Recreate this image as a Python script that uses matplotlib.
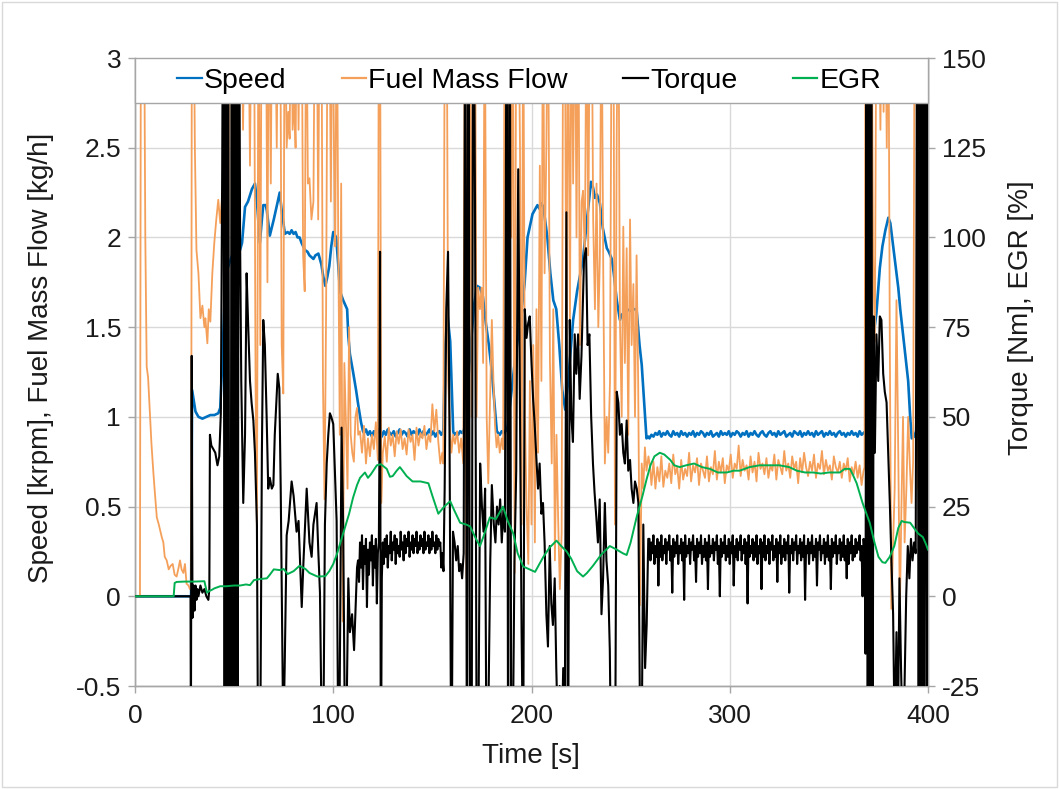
import numpy as np
import matplotlib
matplotlib.use("Agg")
import matplotlib.pyplot as plt
from matplotlib.patches import Rectangle
from matplotlib.lines import Line2D

plt.rcParams['font.family'] = ['Liberation Sans', 'DejaVu Sans']
plt.rcParams['axes.unicode_minus'] = False

# ---------------- data ----------------
x_ticks = [0, 100, 200, 300, 400]
left_ticks = [-0.5, 0, 0.5, 1, 1.5, 2, 2.5, 3]
right_ticks = [-25, 0, 25, 50, 75, 100, 125, 150]
series_names = ["Speed", "Fuel Mass Flow", "Torque", "EGR"]

# Speed [krpm] : (time s, value)
speed_pts_a = [(0, 0), (28.3, 0), (28.8, 1.15), (29.5, 1.10), (30.5, 1.03), (32, 1.0), (34, 0.99), (36, 1.0),
               (38, 1.01), (40, 1.01), (42, 1.02), (43, 1.05), (44, 1.3), (45, 1.6), (46.5, 1.82), (48, 1.87),
               (49, 1.9), (51, 1.93), (53, 1.93), (54, 1.97), (55, 2.1), (55.5, 2.17), (57, 2.2), (59, 2.27),
               (60.5, 2.3), (61.5, 2.2), (63, 1.97), (64, 2.1), (64.7, 2.18), (66, 2.18), (66.5, 2.15),
               (68, 2.01), (70, 2.1), (72, 2.2), (73, 2.25), (74, 2.15), (75.6, 2.02), (77, 2.03), (78, 2.02),
               (79, 2.04), (80, 2.02), (81, 2.03), (82, 2.0), (83, 2.0), (84, 1.97), (85.7, 1.93), (87, 1.92),
               (88, 1.9), (90, 1.88), (91, 1.9), (92.5, 1.91), (94, 1.85), (95, 1.78), (96, 1.73), (97, 1.78),
               (98, 1.84), (99, 1.95), (100, 2.03), (101.5, 2.0), (102.5, 1.85), (103.4, 1.7), (105, 1.65),
               (107, 1.6), (107.6, 1.45), (108.4, 1.35), (110, 1.25), (111.5, 1.15), (112.7, 1.06),
               (114, 0.97), (115, 0.92)]
speed_band_1 = [0.91, 0.93, 0.90, 0.92, 0.89, 0.92, 0.90, 0.93, 0.91, 0.89,
                0.92, 0.90, 0.93, 0.91, 0.90, 0.92, 0.89, 0.91, 0.93, 0.90,
                0.92, 0.91, 0.89, 0.93, 0.90, 0.92, 0.91, 0.90, 0.93, 0.89,
                0.92, 0.90, 0.91, 0.93, 0.90, 0.92, 0.89, 0.91, 0.92, 0.90]   # from 115.5 s, 1 s step
speed_pts_b = [(155.5, 0.92), (156.5, 1.4), (157.5, 1.58), (159, 1.42), (160.5, 0.92), (161, 0.90), (162, 0.91),
               (163, 0.90), (164, 0.92), (165, 0.91), (166, 0.93), (167, 1.0), (169, 1.35), (171, 1.62),
               (172.5, 1.73), (174, 1.72), (175.5, 1.67), (177, 1.52), (178.5, 1.4), (180, 1.25), (181.5, 1.05),
               (182.5, 0.92), (184, 0.90), (185, 0.92), (186, 0.91), (187, 0.92), (188, 0.95), (190, 1.15),
               (192, 1.35), (194, 1.5), (196.5, 1.74), (198, 2.0), (200.5, 2.13), (202, 2.16), (203, 2.18),
               (204, 2.16), (205, 2.19), (206, 2.17), (208, 2.0), (209.5, 1.8), (211, 1.65), (212.5, 1.6),
               (214, 1.4), (215.5, 1.15), (217, 1.04), (218.5, 1.2), (220, 1.4), (221, 1.54), (223, 1.7),
               (226, 1.88), (228, 2.1), (230, 2.31), (231, 2.28), (232, 2.22), (233, 2.24), (234.5, 2.19),
               (236, 2.05), (238, 1.94), (239, 1.92), (240.5, 1.88), (241.5, 1.8), (243, 1.65), (244.6, 1.54),
               (245.5, 1.57), (247, 1.58), (248, 1.6), (250, 1.59), (252, 1.6), (253, 1.6), (254.5, 1.4),
               (255.6, 1.29), (257, 1.05), (258, 0.88), (259, 0.89)]
speed_band_2 = [0.88, 0.90, 0.89, 0.91, 0.90, 0.92, 0.89, 0.91, 0.90, 0.92,
                0.90, 0.89, 0.92, 0.90, 0.91, 0.89, 0.92, 0.90, 0.91, 0.89,
                0.91, 0.90, 0.92, 0.89, 0.91, 0.90, 0.92, 0.91, 0.89, 0.91,
                0.90, 0.92, 0.89, 0.90, 0.91, 0.89, 0.92, 0.90, 0.91, 0.90,
                0.92, 0.89, 0.91, 0.90, 0.92, 0.91, 0.89, 0.91, 0.90, 0.92,
                0.89, 0.91, 0.90, 0.92, 0.90, 0.89, 0.91, 0.92, 0.90, 0.89,
                0.91, 0.92, 0.90, 0.91, 0.89, 0.92, 0.90, 0.91, 0.92, 0.89,
                0.90, 0.91, 0.89, 0.92, 0.91, 0.90, 0.92, 0.89, 0.91, 0.90,
                0.92, 0.90, 0.91, 0.89, 0.92, 0.90, 0.91, 0.92, 0.89, 0.91,
                0.90, 0.92, 0.90, 0.91, 0.89, 0.91, 0.92, 0.90, 0.91, 0.89,
                0.91, 0.90, 0.92, 0.90, 0.91, 0.89, 0.92, 0.90, 0.91]   # from 259.5 s, 1 s step
speed_pts_c = [(368.5, 0.92), (369.5, 0.95), (371, 1.2), (372.5, 1.45), (374, 1.58), (375.7, 1.83), (377, 1.95),
               (378.5, 2.04), (380, 2.11), (381, 2.08), (382, 1.99), (383.5, 1.85), (385, 1.72), (386, 1.6),
               (387.3, 1.47), (388.5, 1.35), (390, 1.2), (391, 1.0), (391.8, 0.88), (393, 0.89), (394, 0.92),
               (395, 1.3), (396, 1.7), (397, 2.1), (398, 2.3), (399, 2.4), (400, 2.45)]

# Fuel mass flow [kg/h]  (values above the top are clipped behind the legend box)
fuel_pts_a = [(0, 0), (2.5, 0), (3, 3.5), (4.5, 3.5), (5.2, 2.0), (5.9, 1.28), (6.6, 1.22), (7.4, 1.05),
              (8.3, 0.85), (9.2, 0.7), (10, 0.58), (11, 0.44), (12, 0.4), (13.5, 0.33), (14.3, 0.3), (15, 0.22),
              (16, 0.2), (17, 0.15), (18, 0.17), (19, 0.18), (20, 0.12), (21, 0.11), (22, 0.16), (22.7, 0.2),
              (23.5, 0.15), (24.4, 0.13), (25.2, 0.18), (26, 0.07), (27, 0.06), (27.7, 0.04), (28.3, 0.05),
              (28.7, 3.5), (29.5, 3.5), (30.2, 2.5), (31, 1.93), (32, 1.8), (33, 1.55), (34, 1.62), (35, 1.5),
              (35.5, 1.55), (36.5, 1.41), (37.2, 1.6), (38, 1.53), (39, 1.8), (40, 1.97), (41, 2.1), (42, 2.21),
              (43, 2.08), (44, 2.25), (45, 2.23), (46, 3.5), (46.8, 1.2), (47.5, 3.5), (48.5, 3.5), (49.2, 0.6),
              (50, 3.5), (51, 3.5), (51.8, 1.5), (52.5, 3.5), (53.5, 3.5), (54.5, 2.6), (55.5, 3.5), (57, 3.5),
              (58, 2.4), (58.8, 3.5), (60, 3.5), (60.8, 1.2), (61.5, 0.35), (62.3, 3.5), (63.2, 1.4),
              (63.9, 3.5), (65, 3.5), (66, 3.5), (66.8, 1.75), (67.5, 3.5), (68.5, 2.3), (69.2, 3.5),
              (70.5, 3.5), (71.5, 2.5), (72.3, 3.5), (73.2, 3.5), (74, 1.4), (74.8, 1.13), (75.5, 3.5),
              (76.5, 2.5), (77.3, 2.7), (78, 2.55), (78.8, 3.5), (79.5, 2.6), (80.3, 2.75), (81, 2.5),
              (81.8, 3.5), (82.5, 2.6), (83.3, 3.5), (84, 3.5), (84.8, 1.9), (85.6, 1.7), (86.4, 3.5),
              (87.2, 2.3), (88, 2.33), (89, 2.1), (90, 2.2), (90.8, 3.5), (91.6, 3.5), (92.4, 2.1), (93.2, 3.5),
              (94, 3.5), (94.8, 1.2), (95.6, 0.54), (96.4, 1.6), (97.2, 3.5), (98, 3.5), (98.8, 2.2),
              (99.6, 3.5), (100.4, 2.45), (101, 1.95), (101.8, 3.5), (102.5, 2.0), (103.3, 0.9), (104, 2.3),
              (104.8, -0.14), (105.6, 1.3), (106.4, 0.97), (107.2, 0.6), (108, 1.5), (108.8, 0.9), (109.6, 0.8),
              (110.4, 0.75), (111.2, 1.0), (112, 1.05), (112.6, 0.9)]
fuel_band_1a = [0.92, 0.80, 0.95, 0.74, 0.88, 0.78, 0.90, 0.82, 0.97, 0.76]   # from 113.5 s, 1 s step
fuel_pts_spike = [(123.0, 3.5), (123.6, 3.5), (124.2, 0.52)]
fuel_band_1b = [0.80, 0.89, 0.75, 0.94, 0.84, 0.90, 0.78, 0.92, 0.85, 0.93,
                0.82, 0.88, 0.79, 0.93, 0.86, 0.90, 0.76, 0.94, 0.84, 0.91,
                0.88, 0.95, 0.82, 0.90, 0.86, 1.07, 0.92, 1.04, 0.86, 0.74]   # from 125 s, 1 s step
fuel_pts_b = [(155, 0.8), (155.5, 0.74), (156.3, 3.5), (157.2, 3.5), (158, 1.2), (158.8, 0.95), (159.6, 0.8),
              (160.5, 0.9), (161.4, 0.85), (162.5, 0.92), (163.5, 0.8), (164.5, 0.88), (165.6, 0.74),
              (166.4, 3.5), (167.2, 0.1), (168, 3.5), (169, 3.5), (169.8, 1.0), (170.6, 3.5), (171.5, 3.5),
              (172.3, 1.0), (173.1, 1.72), (174, 1.6), (174.8, 1.72), (175.6, 1.3), (176.4, 3.5), (177.4, 1.0),
              (178.2, 0.63), (179.1, 1.1), (180, 1.54), (180.8, 1.2), (181.6, 0.95), (182.4, 0.83), (183.2, 0.9),
              (184, 0.8), (185, 0.88), (185.7, 0.82), (186.5, 3.5), (187.4, 3.5), (188.2, 1.6), (189, 3.5),
              (189.8, 2.0), (190.6, 3.5), (191.5, 0.13), (192.3, 3.5), (193.3, 3.5), (194.2, 2.5), (195, 0.4),
              (195.8, 3.5), (196.7, 1.0), (197.5, 0.5), (198.4, 0.18), (199.2, 1.2), (200, 0.4), (200.9, 1.4),
              (201.7, 0.3), (202.5, 1.6), (203.3, 0.8), (204.2, 2.4), (205, 1.2), (205.8, 3.5), (206.6, 1.8),
              (207.5, 2.5), (208.3, 3.5), (209.3, 1.31), (210.2, 0.74), (211, 1.6), (211.8, 0.2), (212.6, 0.9),
              (213.5, 0.4), (214.3, 0.04), (215.2, 0.35), (216, 3.5), (216.8, 3.5), (217.6, 1.2), (218.4, 3.5),
              (219.4, 1.54), (220.2, 3.5), (221, 2.3), (221.9, 3.5), (222.7, 2.0), (223.6, 3.5), (224.4, 1.4),
              (225.3, 2.2), (226, 2.26), (226.9, 1.88), (227.8, 3.5), (228.6, 1.9), (229.5, 3.5), (230.3, 3.5),
              (231.1, 2.1), (232, 1.6), (232.8, 2.3), (233.7, 1.5), (234.5, 1.9), (235.3, 3.5), (236.2, 1.8),
              (237, 0.74), (237.9, 1.0), (238.7, 0.8), (239.6, 1.2), (240.5, 3.5), (241.3, 3.5), (242.1, 0.4),
              (243, 2.6), (243.8, 3.5), (244.6, 1.54), (245.5, 1.0), (246.3, 2.06), (247.1, 1.3), (248, 1.94),
              (248.8, 0.9), (249.7, 2.1), (250.5, 1.4), (251.4, 1.74), (252.2, 1.0), (253, 1.9), (253.8, 1.2),
              (254.7, -0.05), (255.6, 0.74), (256.4, 0.6), (257.2, 0.83), (258, 0.7), (259, 0.78), (259.8, 0.72)]
fuel_band_2 = [0.62, 0.75, 0.60, 0.72, 0.64, 0.78, 0.61, 0.70, 0.66, 0.74,
               0.63, 0.79, 0.68, 0.72, 0.60, 0.76, 0.65, 0.71, 0.67, 0.80,
               0.64, 0.73, 0.69, 0.77, 0.62, 0.74, 0.70, 0.66, 0.78, 0.64,
               0.72, 0.68, 0.81, 0.65, 0.75, 0.69, 0.77, 0.63, 0.73, 0.70,
               0.79, 0.66, 0.74, 0.71, 0.84, 0.67, 0.76, 0.70, 0.73, 0.65,
               0.78, 0.69, 0.75, 0.64, 0.80, 0.71, 0.74, 0.68, 0.77, 0.66,
               0.73, 0.70, 0.79, 0.65, 0.76, 0.72, 0.68, 0.81, 0.70, 0.74,
               0.66, 0.78, 0.71, 0.75, 0.63, 0.77, 0.69, 0.80, 0.72, 0.67,
               0.75, 0.70, 0.79, 0.66, 0.74, 0.71, 0.81, 0.68, 0.76, 0.70,
               0.73, 0.65, 0.78, 0.72, 0.69, 0.75, 0.66, 0.74, 0.70, 0.77,
               0.64, 0.72, 0.68, 0.75, 0.66, 0.73, 0.62, 0.70]   # from 260.5 s, 1 s step
fuel_pts_c = [(368, 0.72), (368.5, 3.5), (369.3, 3.5), (370, 1.0), (370.7, 3.5), (371.5, 3.5), (372.3, 1.9),
              (373.2, 1.42), (374, 3.5), (375, 3.5), (376, 2.6), (376.8, 3.5), (377.6, 2.7), (378.4, 3.5),
              (379.2, 2.5), (380, 3.5), (380.7, 1.5), (381.5, -0.07), (382.4, 0.3), (383.2, 0.6), (384.1, 1.65),
              (385, 0.8), (385.8, -0.08), (386.6, 0.5), (387.4, 1.0), (388.2, 0.3), (389.1, 0.6), (390, 1.0),
              (390.8, 0.74), (391.7, 0.52), (392.5, 0.75), (393.3, 3.5), (394.1, 3.5), (395, 0.6), (395.8, 3.5),
              (396.6, 3.5), (397.5, 1.0), (398.3, 3.5), (399.2, 3.5), (400, 2.0)]

# Torque [Nm]  (values beyond the axis range are clipped)
torque_pts_a = [(0, 0), (28.0, 0), (28.2, -40), (28.6, 67), (29.0, -6), (29.5, 3), (30.0, -4), (30.5, 3),
                (31.0, -1), (31.5, 2), (32.0, 0), (33.0, 3), (34.0, 1), (35.0, 2), (36.0, 0), (37.0, -1),
                (37.5, 2), (37.8, 45), (38.5, 42), (39.5, 41), (40.5, 40), (41.6, 36.5), (42.5, 39), (43.3, 51),
                (44.0, 120), (44.6, 200), (45.2, -60), (45.8, 200), (46.4, -60), (47.0, 200), (47.6, -60),
                (48.2, -60), (48.8, 200), (49.4, -60), (50.0, 200), (50.6, -60), (51.2, 200), (51.8, -60),
                (52.4, 200), (53.0, 100), (53.6, 60), (54.6, 26), (55.5, 45), (56.3, 90), (57.0, 77), (58.0, 60),
                (58.8, 54), (59.7, 49), (60.5, 40), (61.5, 20), (62.2, -60), (63.0, -60), (64.0, 40), (64.7, 77),
                (65.5, 70), (66.4, 50), (67.2, 30), (68.0, 33), (69.0, 30), (69.8, 31), (70.5, 45), (72.0, 62),
                (72.8, 58), (73.5, 30), (74.8, -40), (75.5, -20), (76.5, 17), (77.5, 21), (79.0, 32), (80.0, 28),
                (81.5, 18), (82.5, 21), (84.1, -3), (85.0, 10), (86.6, 30), (88.0, 15), (89.1, 11), (90.0, 20),
                (91.6, 26), (92.5, 12), (93.3, 1), (94.2, -40), (95.0, -40), (95.8, 20), (96.7, 37), (97.5, 45),
                (98.3, 51), (99.0, 50), (100.0, 48), (100.8, 35), (101.7, 21), (102.5, -40), (103.2, -30),
                (104.2, 47), (105.0, 20), (105.9, -40), (106.8, -30), (107.6, 5), (108.4, -10), (109.5, -5),
                (110.5, -15), (111.3, -3), (112.0, 8)]
torque_band_1a = [10, 4, 15, 8, 17, 2, 14, 9, 16, -3, 13, 6, 15, 10, 17, 3, 14, 8, 16, -2, 12, 15]  # from 112.5 s, 0.5 s
torque_pts_spike = [(123.3, 40), (123.6, 96), (124.0, -60)]
torque_band_1b = [5, 15, 9, 16, 11, 17, 8, 14, 12, 18,
                  10, 15, 13, 17, 9, 16, 12, 14, 11, 18,
                  13, 15, 10, 17, 12, 16, 14, 18, 11, 15,
                  13, 17, 12, 16, 14, 18, 12, 15, 13, 17,
                  14, 16, 12, 18, 13, 15, 14, 17, 12, 16,
                  13, 18, 14, 15, 12, 17, 13, 16, 14, 15,
                  8, 12]   # from 124.5 s, 0.5 s step
torque_pts_b = [(155.6, 7), (156.2, 30), (157, 80), (157.9, 96), (158.6, 50), (159.6, -60), (160.4, 18),
                (161.2, 15), (162, 10), (162.8, 14), (163.5, 7), (164.3, 9), (165, 5), (165.8, 12), (166.6, 200),
                (167.4, -60), (168.2, 200), (169, -60), (169.8, -60), (170.6, 200), (171.5, 110), (172.4, -60),
                (173.2, -40), (174.1, 37), (175, 25), (175.8, 18), (176.6, 30), (177.4, -60), (178.3, -30),
                (179.2, 10), (180, 31), (181, 20), (181.8, 15), (182.6, 25), (183.4, 20), (184.2, 27), (185, 15),
                (185.8, 24), (186.6, 18), (187.5, 200), (188.2, -60), (189, 200), (189.8, -60), (190.6, -40),
                (191.4, 10), (192.3, 35), (193.3, 119), (194.1, 60), (195, -10), (195.8, -50), (196.6, 80),
                (197.5, 72), (198.3, 76), (199.1, 78), (200, 65), (200.8, 55), (201.6, 48), (202.5, 38),
                (203.3, 30), (204.1, 37), (205, 23), (205.8, 26), (206.6, 15), (207.5, -5), (208.3, -14),
                (209.2, 14), (210, -2), (210.8, -8), (211.7, 5), (212.5, -20), (213.4, -40), (214.2, -25),
                (215.1, -45), (216, -20), (216.8, -40), (217.6, 107), (218.4, -60), (219.3, 77), (220.1, 50),
                (220.9, 43), (221.8, 73), (222.6, 62), (223.5, 73), (224.3, 55), (225.2, 67), (226.5, 94),
                (227.5, 97), (228.3, 70), (229.2, 73), (230.1, 50), (231, 37), (231.8, 29), (232.7, 22),
                (233.5, 15), (234.4, 27), (235.3, -5), (236.1, 5), (237, 26), (237.8, 10), (238.7, 3),
                (239.5, -15), (240.4, -60), (241.2, -40), (242.1, -60), (243, 57), (243.8, 54), (244.6, 45),
                (245.5, 48), (246.3, 40), (247.1, 37), (248, 49), (248.8, 35), (249.7, 38), (250.5, 30),
                (251.4, 26), (252.2, 32), (253.1, 30), (253.9, 26), (254.8, -40), (255.6, -40), (256.4, 20),
                (257.3, -20), (258.1, -8), (258.9, 16)]
torque_band_2 = [16, 10, 15, 12, 17, 9, 14, 11, 16, 3,
                 15, 11, 17, 10, 14, 12, 16, 9, 15, 13,
                 17, 10, 14, 1, 16, 11, 15, 12, 17, 9,
                 14, 12, 16, 10, 15, -1, 17, 11, 14, 12,
                 16, 9, 15, 13, 17, 10, 14, 4, 16, 11,
                 15, 12, 17, 9, 14, 11, 16, 10, 15, 2,
                 17, 11, 14, 12, 16, 10, 15, 13, 17, 9,
                 14, 0, 16, 11, 15, 12, 17, 10, 14, 11,
                 16, 9, 15, 12, 17, 3, 14, 11, 16, 10,
                 15, 13, 17, 10, 14, 12, 16, 9, 15, -2,
                 17, 11, 14, 12, 16, 10, 15, 11, 17, 9,
                 14, 12, 16, 2, 15, 11, 17, 10, 14, 12,
                 16, 9, 15, 13, 17, 10, 14, 11, 16, 4,
                 15, 12, 17, 9, 14, 11, 16, 10, 15, 12,
                 17, 1, 14, 12, 16, 10, 15, 13, 17, 9,
                 14, 12, 16, 10, 15, 11, 17, -1, 14, 12,
                 16, 9, 15, 12, 17, 10, 14, 11, 16, 3,
                 15, 13, 17, 10, 14, 12, 16, 9, 15, 11,
                 17, 10, 14, 2, 16, 11, 15, 12, 17, 9,
                 14, 12, 16, 10, 15, 11, 17, 10, 14, 5,
                 16, 9, 15, 12, 17, 10, 14, 11, 16, 12,
                 15, 13, 17, 10, 14, 0, 16]   # from 259.5 s, 0.5 s step
torque_pts_c = [(368, 12), (368.5, -16), (369, 200), (369.6, -60), (370.2, 200), (370.8, -60), (371.4, 200),
                (372, -60), (372.6, 78), (373.2, 40), (374, 73), (374.9, 60), (375.7, 78), (376.5, 77),
                (377.4, 62), (378.2, 57), (379.1, 54), (380, 39), (380.8, 25), (381.6, 9), (382.4, -5),
                (383.2, -40), (384.1, -10), (384.8, -40), (385.6, 5), (386.4, -20), (387.2, -40), (388, -30),
                (389, 0), (389.8, 14), (390.6, 5), (391.4, 16), (392.2, 10), (393, 15), (393.8, 12), (394.6, 200),
                (395.3, -60), (396, 200), (396.7, -60), (397.4, 200), (398.1, -60), (398.8, 200), (399.5, -60),
                (400, 200)]

# EGR [%]
egr_pts = [(0, 0), (19.5, 0), (20, 3.7), (21, 4.0), (25, 4.1), (30, 4.1), (35, 4.2), (36.3, 1.0), (37.5, 1.5),
           (38.8, 1.8), (40, 2.2), (43, 2.8), (46, 2.8), (50, 3.0), (53, 3.0), (56, 3.3), (58, 3.1), (60, 4.5),
           (63, 4.8), (66.5, 5.0), (68, 6.0), (70, 7.5), (73, 7.3), (75, 7.6), (77, 6.2), (80, 7.0), (83, 8.5),
           (86, 7.6), (88, 6.5), (90, 6.0), (92, 5.5), (96, 5.6), (98, 7.0), (100, 9.0), (102, 12), (105, 17.5),
           (108, 23), (110, 27.5), (112, 31), (113.5, 33), (116, 34.5), (117.5, 33), (119, 34), (122, 36.5),
           (124, 36.8), (127, 35.5), (128.6, 33.3), (130, 33.5), (132, 35), (133.6, 36), (135, 35), (137, 33.5),
           (140, 32), (144, 32), (148, 31.5), (150, 28), (153, 23), (156, 25), (159, 26.5), (161, 24),
           (164, 20.5), (167, 20), (169, 19.5), (172, 16), (174, 14), (176, 17), (179, 22), (182, 21.5),
           (185.6, 25), (188, 21), (190.8, 17.5), (193, 12), (195.8, 8.3), (199, 7.5), (201.8, 6.8), (204, 9),
           (206, 11), (209, 13.5), (212.6, 15.5), (215, 14), (217.7, 12.5), (220, 10.5), (223, 7), (226, 5.5),
           (228, 6.5), (231, 8.5), (235, 11.5), (239.5, 14), (243, 13), (246, 12), (248, 11.5), (250, 15),
           (253, 22), (256, 28), (258, 32.5), (260, 36.5), (262, 39), (264.7, 40), (267, 39.5), (270, 38),
           (272, 36.5), (274.8, 36), (278, 36.5), (282, 37), (286, 36), (290, 35.5), (294, 34.5), (298.5, 34.5),
           (302, 35), (305, 35), (310, 36), (315, 36.5), (320, 36.5), (325, 36.5), (330, 36), (333.8, 35),
           (338, 34.5), (342, 34.5), (346, 34.2), (350, 34.5), (355.5, 34.5), (358, 35.5), (360.6, 35.5),
           (362, 34), (364, 31.5), (367, 26), (370.6, 20.5), (373, 15), (375, 11), (377, 9.5), (378.5, 9.3),
           (380.7, 11), (383, 14), (385, 19), (386.7, 21), (388, 20.7), (391, 20.5), (393, 19), (395, 17.5),
           (397.4, 16.5), (399, 14.5), (400, 13)]


def assemble(pair_lists, bands):
    t = [p[0] for pts in pair_lists for p in pts]
    v = [p[1] for pts in pair_lists for p in pts]
    for start, step, vals in bands:
        t += [start + step * i for i in range(len(vals))]
        v += list(vals)
    t = np.asarray(t, dtype=float)
    v = np.asarray(v, dtype=float)
    order = np.argsort(t, kind="stable")
    return t[order], v[order]


speed_t, speed_v = assemble([speed_pts_a, speed_pts_b, speed_pts_c],
                            [(115.5, 1.0, speed_band_1), (259.5, 1.0, speed_band_2)])
fuel_t, fuel_v = assemble([fuel_pts_a, fuel_pts_spike, fuel_pts_b, fuel_pts_c],
                          [(113.5, 1.0, fuel_band_1a), (125.0, 1.0, fuel_band_1b), (260.5, 1.0, fuel_band_2)])
torque_t, torque_v = assemble([torque_pts_a, torque_pts_spike, torque_pts_b, torque_pts_c],
                              [(112.5, 0.5, torque_band_1a), (124.5, 0.5, torque_band_1b),
                               (259.5, 0.5, torque_band_2)])
egr_t, egr_v = assemble([egr_pts], [])

# ---------------- styling ----------------
BLUE = "#0070C0"
ORANGE = "#F5A05A"
BLACK = "#000000"
GREEN = "#00B050"
GRID = "#D9D9D9"
SPINE = "#A6A6A6"
TEXT = "#1A1A1A"
FS_TICK = 19
FS_LABEL = 20
FS_LEG = 20.5

W, H = 1059, 789
fig = plt.figure(figsize=(W / 100, H / 100), dpi=100)
fig.patch.set_facecolor("white")
x0, x1, y0, y1 = 135, 928, 58, 686
ax1 = fig.add_axes([x0 / W, 1 - y1 / H, (x1 - x0) / W, (y1 - y0) / H])
ax2 = ax1.twinx()

ax1.plot(speed_t, speed_v, color=BLUE, lw=1.9, zorder=3, solid_joinstyle="round")
ax1.plot(fuel_t, fuel_v, color=ORANGE, lw=1.3, zorder=4)
ax2.plot(torque_t, torque_v, color=BLACK, lw=1.5, zorder=3)
ax2.plot(egr_t, egr_v, color=GREEN, lw=1.4, zorder=4)

ax1.set_xlim(0, 400)
ax1.set_ylim(-0.5, 3)
ax2.set_ylim(-25, 150)
ax1.set_xticks(x_ticks)
ax1.set_xticklabels([f"{v:g}" for v in x_ticks])
ax1.set_yticks(left_ticks)
ax1.set_yticklabels([f"{v:g}" for v in left_ticks])
ax2.set_yticks(right_ticks)
ax2.set_yticklabels([f"{v:g}" for v in right_ticks])

ax1.grid(True, color=GRID, lw=1.0)
ax1.set_axisbelow(True)
for ax in (ax1, ax2):
    for s in ax.spines.values():
        s.set_color(SPINE)
        s.set_linewidth(1.0)
    ax.spines["top"].set_visible(False)
    ax.tick_params(axis="both", direction="out", length=5, width=1, color=SPINE,
                   labelsize=FS_TICK, labelcolor=TEXT, pad=5)
ax1.tick_params(axis="x", pad=8)


def px_to_axes(px, py):
    return (px - x0) / (x1 - x0), (y1 - py) / (y1 - y0)


ax1.set_xlabel("Time [s]", fontsize=FS_LABEL, color=TEXT)
ax1.xaxis.set_label_coords(*px_to_axes(531, 743))
ax1.set_ylabel("Speed [krpm], Fuel Mass Flow [kg/h]", fontsize=FS_LABEL, color=TEXT)
ax1.yaxis.set_label_coords(*px_to_axes(54, 358))
ax2.set_ylabel("Torque [Nm], EGR [%]", fontsize=FS_LABEL, color=TEXT)
ax2.yaxis.set_label_coords(*px_to_axes(1008, 318))

# legend band across the top of the plot area
hfrac = (103 - 58) / (y1 - y0)
box = Rectangle((0, 1 - hfrac), 1, hfrac, transform=ax2.transAxes, facecolor="white",
                edgecolor=SPINE, lw=1.0, zorder=10, clip_on=False)
ax2.add_patch(box)
handles = [Line2D([], [], color=c, lw=1.6) for c in (BLUE, ORANGE, BLACK, GREEN)]
leg = ax2.legend(handles, series_names, loc="center", bbox_to_anchor=(0.497, 1 - hfrac / 2), ncol=4,
                 frameon=False, fontsize=FS_LEG, handlelength=0.85, handletextpad=0.08, columnspacing=1.95,
                 borderaxespad=0, borderpad=0)
leg.set_zorder(11)

# chart area border
fig.patches.append(Rectangle((0.002, 0.002), 0.996, 0.996, transform=fig.transFigure, fill=False,
                             edgecolor="#D9D9D9", lw=1.0))

fig.savefig("out.png", dpi=100, facecolor="white")
